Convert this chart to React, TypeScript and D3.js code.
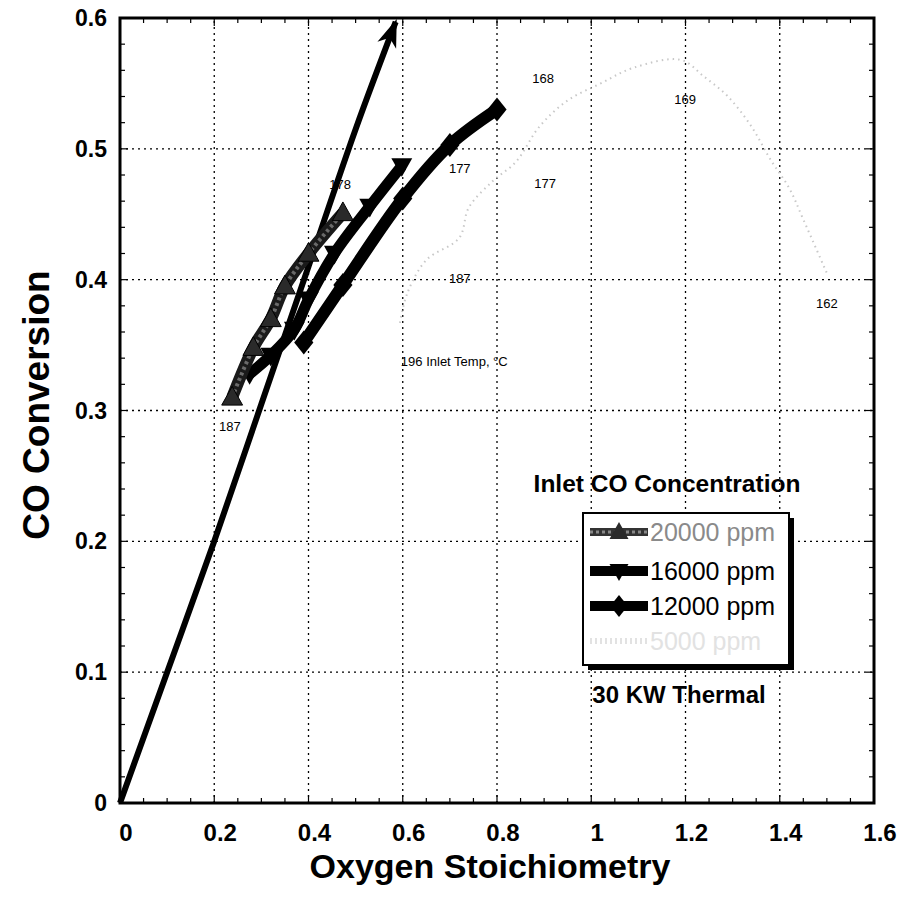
import React from "react";
import * as d3 from "d3";

const W = 902;
const H = 910;

const xTickValues = [0, 0.2, 0.4, 0.6, 0.8, 1, 1.2, 1.4, 1.6];
const xTickLabels = ["0", "0.2", "0.4", "0.6", "0.8", "1", "1.2", "1.4", "1.6"];
const yTickValues = [0, 0.1, 0.2, 0.3, 0.4, 0.5, 0.6];
const yTickLabels = ["0", "0.1", "0.2", "0.3", "0.4", "0.5", "0.6"];

const seriesNames = ["20000 ppm", "16000 ppm", "12000 ppm", "5000 ppm"];

const s20000X = [0.238, 0.283, 0.32, 0.35, 0.4, 0.473];
const s20000Y = [0.31, 0.348, 0.37, 0.395, 0.42, 0.451];

const s16000X = [0.275, 0.32, 0.37, 0.4, 0.455, 0.53, 0.598];
const s16000Y = [0.328, 0.342, 0.362, 0.385, 0.42, 0.456, 0.487];

const s12000X = [0.39, 0.473, 0.6, 0.7, 0.8];
const s12000Y = [0.352, 0.396, 0.462, 0.503, 0.53];

const s5000X = [0.594, 0.61, 0.65, 0.72, 0.74, 0.79, 0.84, 0.89, 0.95, 1.02, 1.09, 1.19, 1.24, 1.29, 1.34, 1.38, 1.42, 1.45, 1.5];
const s5000Y = [0.367, 0.39, 0.415, 0.432, 0.455, 0.475, 0.49, 0.517, 0.537, 0.55, 0.562, 0.568, 0.555, 0.54, 0.517, 0.492, 0.47, 0.446, 0.405];

const arrowX = [0, 0.1, 0.2, 0.3, 0.4, 0.5, 0.585];
const arrowY = [0, 0.1, 0.2, 0.305, 0.41, 0.515, 0.597];

const annoText = ["187", "178", "196  Inlet Temp, °C", "187", "177", "177", "168", "169", "162"];
const annoX = [0.233, 0.467, 0.596, 0.721, 0.721, 0.902, 0.898, 1.199, 1.5];
const annoY = [0.287, 0.472, 0.337, 0.4, 0.484, 0.473, 0.553, 0.537, 0.381];
const annoAnchor = ["middle", "middle", "start", "middle", "middle", "middle", "middle", "middle", "middle"];

const FONT = "Arial, 'Liberation Sans', Helvetica, sans-serif";

const x = d3.scaleLinear().domain([0, 1.6]).range([120, 874]);
const y = d3.scaleLinear().domain([0, 0.6]).range([803, 18]);

const zip = (xs: number[], ys: number[]) => xs.map((v, i) => [v, ys[i]] as [number, number]);

const lineGen = d3
  .line<[number, number]>()
  .x((d) => x(d[0]))
  .y((d) => y(d[1]))
  .curve(d3.curveCatmullRom.alpha(0.5));

const triUp = (cx: number, cy: number, s: number) =>
  `M${cx},${cy - s}L${cx + s * 0.95},${cy + s * 0.7}L${cx - s * 0.95},${cy + s * 0.7}Z`;
const triDown = (cx: number, cy: number, s: number) =>
  `M${cx},${cy + s}L${cx + s * 0.95},${cy - s * 0.7}L${cx - s * 0.95},${cy - s * 0.7}Z`;
const diamond = (cx: number, cy: number, s: number) =>
  `M${cx},${cy - s}L${cx + s * 0.8},${cy}L${cx},${cy + s}L${cx - s * 0.8},${cy}Z`;

export default function App() {
  const [x0, x1] = x.range();
  const [y0, y1] = y.range();
  const minorX = d3.range(0, 1.6001, 0.05);
  const minorY = d3.range(0, 0.6001, 0.02);

  const d20000 = zip(s20000X, s20000Y);
  const d16000 = zip(s16000X, s16000Y);
  const d12000 = zip(s12000X, s12000Y);
  const d5000 = zip(s5000X, s5000Y);
  const dArrow = zip(arrowX, arrowY);

  const legX = 583;
  const legY = 513;
  const legW = 206;
  const legH = 152;
  const rowY = [532, 571, 606, 641];

  return (
    <svg width={W} height={H} style={{ display: "block", position: "absolute", left: 0, top: 0 }} fontFamily={FONT}>
      <rect x={0} y={0} width={W} height={H} fill="#fff" />
      <defs>
        <marker id="arrowHead" viewBox="-28 -12 32 24" refX={0} refY={0} markerWidth={32} markerHeight={24} markerUnits="userSpaceOnUse" orient="auto">
          <path d="M3,0 L-25,-10 L-17,0 L-25,10 Z" fill="#000" />
        </marker>
      </defs>

      {/* grid */}
      {xTickValues.slice(1, -1).map((v) => (
        <line key={"gx" + v} x1={x(v)} x2={x(v)} y1={y0} y2={y1} stroke="#000" strokeWidth={1.3} strokeDasharray="2,4" />
      ))}
      {yTickValues.slice(1, -1).map((v) => (
        <line key={"gy" + v} x1={x0} x2={x1} y1={y(v)} y2={y(v)} stroke="#000" strokeWidth={1.3} strokeDasharray="2,4" />
      ))}

      {/* minor/major ticks */}
      {minorX.map((v, i) => {
        const len = i % 4 === 0 ? 8 : 5;
        return (
          <g key={"tx" + i}>
            <line x1={x(v)} x2={x(v)} y1={y0} y2={y0 - len} stroke="#000" strokeWidth={1.2} />
            <line x1={x(v)} x2={x(v)} y1={y1} y2={y1 + len} stroke="#000" strokeWidth={1.2} />
          </g>
        );
      })}
      {minorY.map((v, i) => {
        const len = i % 5 === 0 ? 8 : 5;
        return (
          <g key={"ty" + i}>
            <line x1={x0} x2={x0 + len} y1={y(v)} y2={y(v)} stroke="#000" strokeWidth={1.2} />
            <line x1={x1} x2={x1 - len} y1={y(v)} y2={y(v)} stroke="#000" strokeWidth={1.2} />
          </g>
        );
      })}

      {/* 5000 ppm faint curve */}
      <path d={lineGen(d5000) || ""} fill="none" stroke="#c8c8c8" strokeWidth={2} strokeDasharray="1.5,4" />

      {/* 12000 ppm */}
      <path d={lineGen(d12000) || ""} fill="none" stroke="#000" strokeWidth={12} />
      {d12000.map((d, i) => (
        <path key={"m12" + i} d={diamond(x(d[0]), y(d[1]), 12)} fill="#000" />
      ))}

      {/* 16000 ppm */}
      <path d={lineGen(d16000) || ""} fill="none" stroke="#000" strokeWidth={11} />
      {d16000.map((d, i) => (
        <path key={"m16" + i} d={triDown(x(d[0]), y(d[1]), 11)} fill="#000" />
      ))}

      {/* arrow line */}
      <path d={lineGen(dArrow) || ""} fill="none" stroke="#000" strokeWidth={6} markerEnd="url(#arrowHead)" />

      {/* 20000 ppm */}
      <path d={lineGen(d20000) || ""} fill="none" stroke="#1a1a1a" strokeWidth={12} />
      <path d={lineGen(d20000) || ""} fill="none" stroke="#6a6a6a" strokeWidth={4} strokeDasharray="3,3" />
      {d20000.map((d, i) => (
        <path key={"m20" + i} d={triUp(x(d[0]), y(d[1]), 11)} fill="#2a2a2a" stroke="#000" strokeWidth={1} />
      ))}

      {/* annotations */}
      {annoText.map((t, i) => (
        <text key={"an" + i} x={x(annoX[i])} y={y(annoY[i])} fontSize={13} textAnchor={annoAnchor[i] as any} dominantBaseline="middle" fill="#000">
          {t}
        </text>
      ))}

      {/* frame */}
      <rect x={x0} y={y1} width={x1 - x0} height={y0 - y1} fill="none" stroke="#000" strokeWidth={3} />

      {/* tick labels */}
      {xTickValues.map((v, i) => (
        <text key={"xl" + i} x={x(v) + 6} y={841} fontSize={24} fontWeight="bold" textAnchor="middle">
          {xTickLabels[i]}
        </text>
      ))}
      {yTickValues.map((v, i) => (
        <text key={"yl" + i} x={107} y={y(v) + 8} fontSize={23} fontWeight="bold" textAnchor="end">
          {yTickLabels[i]}
        </text>
      ))}

      {/* axis titles */}
      <text x={490} y={878} fontSize={34} fontWeight="bold" textAnchor="middle">
        Oxygen Stoichiometry
      </text>
      <text transform="translate(49,405) rotate(-90)" fontSize={37} fontWeight="bold" textAnchor="middle">
        CO Conversion
      </text>

      {/* legend */}
      <text x={667} y={492} fontSize={24.5} fontWeight="bold" textAnchor="middle">
        Inlet CO Concentration
      </text>
      <rect x={legX + 5} y={legY + 5} width={legW} height={legH} fill="#000" />
      <rect x={legX} y={legY} width={legW} height={legH} fill="#fff" stroke="#000" strokeWidth={2} />
      {/* row 1 */}
      <line x1={590} x2={648} y1={rowY[0]} y2={rowY[0]} stroke="#333" strokeWidth={8} />
      <line x1={590} x2={648} y1={rowY[0]} y2={rowY[0]} stroke="#888" strokeWidth={3} strokeDasharray="3,3" />
      <path d={triUp(619, rowY[0], 10)} fill="#2a2a2a" />
      <text x={650} y={rowY[0] + 9} fontSize={25} fill="#8a8a8a">{seriesNames[0]}</text>
      {/* row 2 */}
      <line x1={590} x2={648} y1={rowY[1]} y2={rowY[1]} stroke="#000" strokeWidth={10} />
      <path d={triDown(619, rowY[1], 10)} fill="#000" />
      <text x={650} y={rowY[1] + 9} fontSize={25} fill="#000">{seriesNames[1]}</text>
      {/* row 3 */}
      <line x1={590} x2={648} y1={rowY[2]} y2={rowY[2]} stroke="#000" strokeWidth={10} />
      <path d={diamond(619, rowY[2], 11)} fill="#000" />
      <text x={650} y={rowY[2] + 9} fontSize={25} fill="#000">{seriesNames[2]}</text>
      {/* row 4 */}
      <line x1={590} x2={648} y1={rowY[3]} y2={rowY[3]} stroke="#e2e2e2" strokeWidth={6} strokeDasharray="2,3" />
      <text x={650} y={rowY[3] + 9} fontSize={25} fill="#e2e2e2">{seriesNames[3]}</text>

      <text x={679} y={703} fontSize={24} fontWeight="bold" textAnchor="middle">
        30 KW Thermal
      </text>
    </svg>
  );
}
